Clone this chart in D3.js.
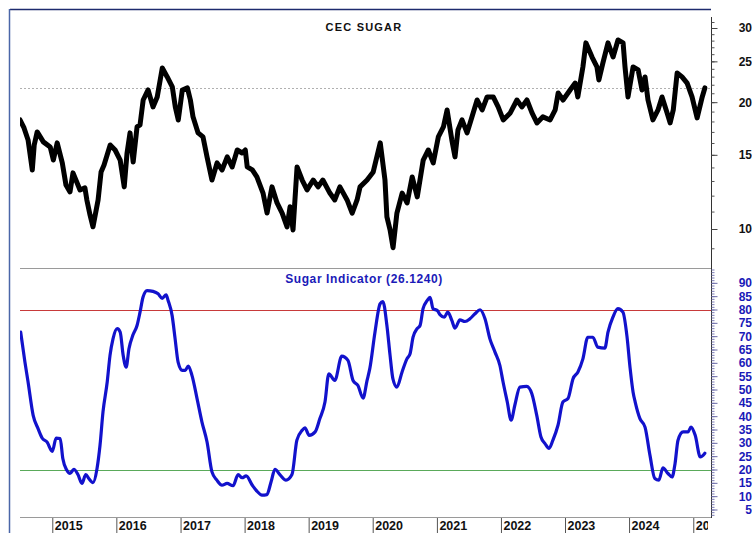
<!DOCTYPE html>
<html>
<head>
<meta charset="utf-8">
<script src="https://cdn.jsdelivr.net/npm/d3@7"></script>
<style>
  html, body { margin: 0; padding: 0; background: #fff; }
  svg { display: block; font-family: "Liberation Sans", Arial, sans-serif; }
</style>
</head>
<body>
<svg id="chart" width="752" height="533"></svg>
<script>
// ---------- DATA ----------
const priceTitle = "CEC SUGAR";
const indicatorName = "Sugar Indicator";
const indicatorLast = 26.1240;
const upperLevel = 80;
const lowerLevel = 20;

const priceDates = ["2014-07-01","2014-07-24","2014-08-16","2014-09-09","2014-09-20","2014-10-07","2014-11-11","2014-12-20","2015-01-07","2015-01-29",
"2015-02-27","2015-03-20","2015-04-12","2015-04-29","2015-06-08","2015-07-06","2015-07-17","2015-08-04","2015-08-21","2015-09-19",
"2015-10-06","2015-10-23","2015-11-27","2015-12-25","2016-01-23","2016-02-15","2016-03-02","2016-03-19","2016-04-06","2016-04-28",
"2016-05-15","2016-06-02","2016-06-30","2016-07-28","2016-08-21","2016-09-19","2016-10-17","2016-11-15","2016-12-02","2016-12-19",
"2017-01-11","2017-02-09","2017-02-26","2017-03-13","2017-04-11","2017-05-09","2017-06-01","2017-06-29","2017-07-28","2017-08-26",
"2017-09-24","2017-10-22","2017-11-20","2017-12-18","2018-01-05","2018-01-16","2018-02-14","2018-03-12","2018-04-16","2018-05-09",
"2018-06-06","2018-07-05","2018-08-03","2018-08-31","2018-09-17","2018-10-04","2018-10-27","2018-11-25","2018-12-23","2019-01-27",
"2019-02-24","2019-03-23","2019-05-02","2019-05-30","2019-06-28","2019-08-08","2019-09-06","2019-10-04","2019-10-21","2019-11-30",
"2020-01-04","2020-02-13","2020-03-11","2020-03-22","2020-04-09","2020-04-26","2020-05-18","2020-06-17","2020-07-15","2020-08-13",
"2020-09-11","2020-10-15","2020-11-13","2020-12-11","2021-01-09","2021-02-07","2021-02-28","2021-03-27","2021-04-14","2021-05-01",
"2021-05-24","2021-06-22","2021-07-20","2021-08-18","2021-09-16","2021-10-14","2021-11-18","2021-12-16","2022-01-14","2022-02-23",
"2022-04-02","2022-04-30","2022-05-29","2022-06-27","2022-07-25","2022-08-28","2022-10-08","2022-11-06","2022-11-23","2022-12-21",
"2023-01-30","2023-02-28","2023-03-15","2023-04-13","2023-04-30","2023-06-04","2023-07-02","2023-07-13","2023-08-05","2023-09-03",
"2023-10-02","2023-10-30","2023-11-28","2023-12-09","2023-12-26","2024-01-24","2024-02-22","2024-03-15","2024-04-01","2024-04-18",
"2024-05-16","2024-06-14","2024-07-07","2024-08-05","2024-08-22","2024-09-09","2024-10-01","2024-10-29","2024-11-27","2024-12-25",
"2025-01-23","2025-02-21","2025-03-08"];

const priceValues = [18.15,17.37,16.27,13.81,15.83,17.00,16.10,15.66,14.58,16.01,
14.35,12.72,12.25,13.59,12.38,12.52,11.72,10.80,10.12,11.72,
13.66,14.19,15.83,15.40,14.58,12.59,15.15,16.91,14.43,17.47,
17.66,20.24,21.38,19.49,20.58,24.12,22.96,21.74,19.49,18.15,
21.38,21.62,20.24,18.46,16.91,16.54,14.83,13.07,14.35,13.81,
14.83,14.04,15.40,15.15,15.40,14.04,13.81,13.29,12.17,10.91,
12.59,11.53,10.91,10.12,11.29,9.95,14.04,13.07,12.38,13.07,
12.59,13.07,12.17,11.72,12.59,11.72,10.91,11.72,12.59,13.07,
13.66,16.01,13.07,10.69,9.95,9.03,10.91,12.17,11.53,13.29,
11.92,14.58,15.40,14.35,16.54,17.47,19.17,16.27,14.83,17.18,
18.15,16.91,18.46,20.24,19.17,20.58,20.58,19.49,18.15,18.86,
20.24,19.49,20.24,18.86,17.86,18.46,18.15,19.17,21.04,20.24,
21.38,22.20,20.58,24.25,27.66,25.60,24.25,22.58,24.79,27.66,
25.60,28.10,27.66,24.25,20.58,24.25,23.85,21.38,22.96,20.24,
18.15,19.17,20.58,18.86,17.86,19.17,23.47,22.96,22.20,20.58,
18.35,20.58,21.62];

const indDates = ["2014-07-05","2014-07-29","2014-08-16","2014-09-14","2014-10-12","2014-11-04","2014-12-02","2015-01-01","2015-01-23","2015-02-15",
"2015-03-02","2015-03-25","2015-04-12","2015-05-04","2015-05-27","2015-06-19","2015-07-11","2015-07-28","2015-08-21","2015-09-13",
"2015-09-30","2015-10-17","2015-11-10","2015-11-26","2015-12-13","2016-01-06","2016-01-23","2016-02-09","2016-02-26","2016-03-13",
"2016-04-05","2016-04-28","2016-05-15","2016-06-01","2016-06-24","2016-07-28","2016-08-26","2016-09-18","2016-10-11","2016-10-22",
"2016-11-14","2016-12-01","2016-12-18","2017-01-11","2017-01-28","2017-02-14","2017-03-07","2017-04-05","2017-05-03","2017-06-01",
"2017-06-29","2017-07-27","2017-08-25","2017-09-23","2017-10-27","2017-11-25","2017-12-18","2018-01-10","2018-02-14","2018-03-12",
"2018-04-10","2018-05-08","2018-06-01","2018-06-23","2018-07-21","2018-08-25","2018-09-28","2018-10-26","2018-11-25","2018-12-11",
"2019-01-04","2019-02-07","2019-03-06","2019-04-04","2019-04-26","2019-05-30","2019-07-09","2019-08-13","2019-09-11","2019-10-09",
"2019-11-07","2019-11-30","2019-12-16","2020-01-14","2020-02-12","2020-02-28","2020-03-22","2020-04-09","2020-04-25","2020-05-18",
"2020-06-16","2020-07-14","2020-08-01","2020-08-18","2020-09-10","2020-09-27","2020-10-14","2020-11-07","2020-11-23","2020-12-10",
"2021-01-03","2021-01-20","2021-02-12","2021-03-04","2021-03-27","2021-04-14","2021-05-12","2021-06-10","2021-07-08","2021-08-06",
"2021-09-04","2021-10-02","2021-10-30","2021-11-28","2021-12-26","2022-01-13","2022-02-06","2022-02-28","2022-03-21","2022-04-19",
"2022-05-28","2022-06-26","2022-07-24","2022-08-17","2022-09-09","2022-10-02","2022-10-24","2022-11-22","2022-12-20","2023-01-18",
"2023-02-16","2023-03-15","2023-04-13","2023-05-11","2023-06-09","2023-07-07","2023-08-16","2023-09-03","2023-10-01","2023-10-29",
"2023-11-27","2023-12-20","2024-01-07","2024-01-24","2024-02-05","2024-03-03","2024-04-01","2024-04-29","2024-05-27","2024-06-19",
"2024-07-12","2024-08-10","2024-09-02","2024-09-19","2024-10-06","2024-11-04","2024-12-02","2024-12-19","2025-01-12","2025-02-10",
"2025-03-08"];

const indValues = [71.5,60.3,52.8,40.3,35.3,31.8,30.3,26.8,31.8,31.6,
24.1,19.7,18.5,20.1,18.1,14.8,18.1,16.6,15.1,20.4,
29.1,41.6,52.8,62.8,69.0,72.8,71.5,62.8,58.4,65.3,
70.5,74.0,79.0,84.6,87.1,86.8,85.9,84.2,85.5,83.4,
77.7,69.0,60.3,57.2,57.2,58.8,55.3,46.6,37.8,30.3,
19.1,16.0,14.1,14.8,13.9,18.1,16.9,17.6,14.1,11.9,
10.4,10.6,15.4,20.1,18.1,16.0,18.1,31.0,34.7,35.6,
32.8,34.1,39.1,45.3,55.9,53.4,62.5,60.9,53.4,51.5,
46.8,53.4,58.0,71.5,82.1,83.0,74.0,62.8,54.1,50.9,
56.5,61.5,63.4,69.6,72.8,74.0,80.3,83.4,84.6,80.3,
79.6,78.0,77.1,79.0,75.9,73.0,76.1,75.5,76.5,78.4,
79.9,76.5,69.0,64.0,59.0,52.8,45.3,38.5,44.1,50.9,
51.2,48.4,40.3,32.2,29.7,27.9,31.0,36.6,45.3,46.6,
54.1,56.5,61.5,69.6,69.6,65.9,65.5,71.5,77.1,80.3,
79.0,70.0,58.0,49.0,45.3,39.1,35.9,25.4,16.6,16.0,
20.6,18.5,17.2,22.2,31.0,34.1,34.1,35.9,32.8,24.7,
26.124];

const yearTicks = [2015,2016,2017,2018,2019,2020,2021,2022,2023,2024,2025];
const priceTicks = [10,15,20,25,30];
const indTicks = [5,10,15,20,25,30,35,40,45,50,55,60,65,70,75,80,85,90];

// ---------- BUILD ----------
const parse = d3.timeParse("%Y-%m-%d");
const price = priceDates.map((d, i) => ({date: parse(d), value: priceValues[i]})).filter(d => d.value != null);
const ind = indDates.map((d, i) => ({date: parse(d), value: indValues[i]})).filter(d => d.value != null);

const L = 20, R = 711;
const pTop = 9, pBot = 268, iTop = 268, iBot = 517;

const x = d3.scaleTime().domain([new Date(2014, 6, 1), new Date(2025, 3, 12)]).range([L, R]);
const yP = d3.scaleLog().domain([10, 30]).range([229, 28]);
const yI = d3.scaleLinear().domain([lowerLevel, upperLevel]).range([469.5, 309.5]);

const svg = d3.select("#chart");
svg.append("rect").attr("width", 752).attr("height", 533).attr("fill", "#fff");

const defs = svg.append("defs");
defs.append("clipPath").attr("id", "clipP").append("rect")
  .attr("x", L).attr("y", pTop + 1).attr("width", R - L).attr("height", pBot - pTop - 1);
defs.append("clipPath").attr("id", "clipI").append("rect")
  .attr("x", L).attr("y", iTop + 1).attr("width", R - L).attr("height", iBot - iTop - 1);
defs.append("clipPath").attr("id", "clipX").append("rect")
  .attr("x", 0).attr("y", iBot).attr("width", R - 3).attr("height", 533 - iBot);

// frame lines
svg.append("line").attr("x1", 10).attr("x2", R).attr("y1", 9.5).attr("y2", 9.5)
  .attr("stroke", "#1d2b6e").attr("stroke-width", 1.5);
svg.append("line").attr("x1", 9.5).attr("x2", 9.5).attr("y1", 9).attr("y2", 533)
  .attr("stroke", "#4a66a8").attr("stroke-width", 1.5);
svg.append("line").attr("x1", L).attr("x2", R).attr("y1", pBot + 0.5).attr("y2", pBot + 0.5)
  .attr("stroke", "#9a9a9a").attr("stroke-width", 1);
svg.append("line").attr("x1", L).attr("x2", R).attr("y1", iBot + 0.5).attr("y2", iBot + 0.5)
  .attr("stroke", "#9a9a9a").attr("stroke-width", 1);

// price panel
const gP = svg.append("g").attr("clip-path", "url(#clipP)");
const lastPrice = price[price.length - 1].value;
gP.append("line").attr("x1", L).attr("x2", R)
  .attr("y1", Math.round(yP(lastPrice)) + 0.5).attr("y2", Math.round(yP(lastPrice)) + 0.5)
  .attr("stroke", "#b0b0b0").attr("stroke-width", 1).attr("stroke-dasharray", "2,2");
gP.append("path").datum(price)
  .attr("d", d3.line().x(d => x(d.date)).y(d => yP(d.value)))
  .attr("fill", "none").attr("stroke", "#000").attr("stroke-width", 5)
  .attr("stroke-linejoin", "round").attr("stroke-linecap", "round");

svg.append("text").attr("x", 364).attr("y", 31).attr("text-anchor", "middle")
  .attr("font-size", 11).attr("font-weight", "bold").attr("letter-spacing", 1.2)
  .attr("fill", "#111").text(priceTitle);

// indicator panel
const gI = svg.append("g").attr("clip-path", "url(#clipI)");
gI.append("line").attr("x1", L).attr("x2", R)
  .attr("y1", Math.round(yI(upperLevel)) + 0.5).attr("y2", Math.round(yI(upperLevel)) + 0.5)
  .attr("stroke", "#c83a3a").attr("stroke-width", 1);
gI.append("line").attr("x1", L).attr("x2", R)
  .attr("y1", Math.round(yI(lowerLevel)) + 0.5).attr("y2", Math.round(yI(lowerLevel)) + 0.5)
  .attr("stroke", "#5aaa5a").attr("stroke-width", 1);
gI.append("path").datum(ind)
  .attr("d", d3.line().curve(d3.curveMonotoneX).x(d => x(d.date)).y(d => yI(d.value)))
  .attr("fill", "none").attr("stroke", "#1212cc").attr("stroke-width", 3.2)
  .attr("stroke-linejoin", "round").attr("stroke-linecap", "round");

svg.append("text").attr("x", 364).attr("y", 283).attr("text-anchor", "middle")
  .attr("font-size", 12).attr("font-weight", "bold").attr("letter-spacing", 0.6)
  .attr("fill", "#1a1ab8")
  .text(`${indicatorName} (${indicatorLast.toFixed(4)})`);

// right axis line
svg.append("line").attr("x1", R + 0.5).attr("x2", R + 0.5).attr("y1", 17).attr("y2", iBot + 1)
  .attr("stroke", "#333").attr("stroke-width", 1);

// price axis
const gPA = svg.append("g").attr("transform", `translate(${R + 0.5},0)`);
gPA.append("g").call(d3.axisRight(yP).tickValues(d3.range(9, 32)).tickSize(3).tickFormat(""))
  .call(g => g.select(".domain").remove())
  .call(g => g.selectAll("line").attr("stroke", "#555"));
gPA.append("g").call(d3.axisRight(yP).tickValues(priceTicks).tickSize(6).tickFormat(d3.format("d")))
  .call(g => g.select(".domain").remove())
  .call(g => g.selectAll("line").attr("stroke", "#444"))
  .call(g => g.selectAll("text").attr("x", 40.5).attr("text-anchor", "end")
    .attr("font-size", 12).attr("font-weight", "bold").attr("fill", "#111")
    .attr("font-family", "Liberation Sans, Arial, sans-serif"));

// indicator axis
const gIA = svg.append("g").attr("transform", `translate(${R + 0.5},0)`);
gIA.append("g").call(d3.axisRight(yI).tickValues(d3.range(3, 96)).tickSize(3).tickFormat(""))
  .call(g => g.select(".domain").remove())
  .call(g => g.selectAll("line").attr("stroke", "#7a7ab4"));
gIA.append("g").call(d3.axisRight(yI).tickValues(indTicks).tickSize(6).tickFormat(d3.format("d")))
  .call(g => g.select(".domain").remove())
  .call(g => g.selectAll("line").attr("stroke", "#6a6aa8"))
  .call(g => g.selectAll("text").attr("x", 40.5).attr("text-anchor", "end")
    .attr("font-size", 12).attr("font-weight", "bold").attr("fill", "#1a1ab8")
    .attr("font-family", "Liberation Sans, Arial, sans-serif"));

// year axis
const gX = svg.append("g").attr("clip-path", "url(#clipX)")
  .append("g").attr("transform", `translate(0,${iBot + 1})`);
gX.call(d3.axisBottom(x).tickValues(yearTicks.map(y => new Date(y, 0, 1)))
    .tickSize(16).tickFormat(d3.timeFormat("%Y")))
  .call(g => g.select(".domain").remove())
  .call(g => g.selectAll("line").attr("stroke", "#555"))
  .call(g => g.selectAll("text").attr("x", 2).attr("y", 3).attr("dy", "0.71em")
    .attr("text-anchor", "start").attr("font-size", 12.5).attr("font-weight", "bold")
    .attr("fill", "#111").attr("font-family", "Liberation Sans, Arial, sans-serif"));
</script>
</body>
</html>
